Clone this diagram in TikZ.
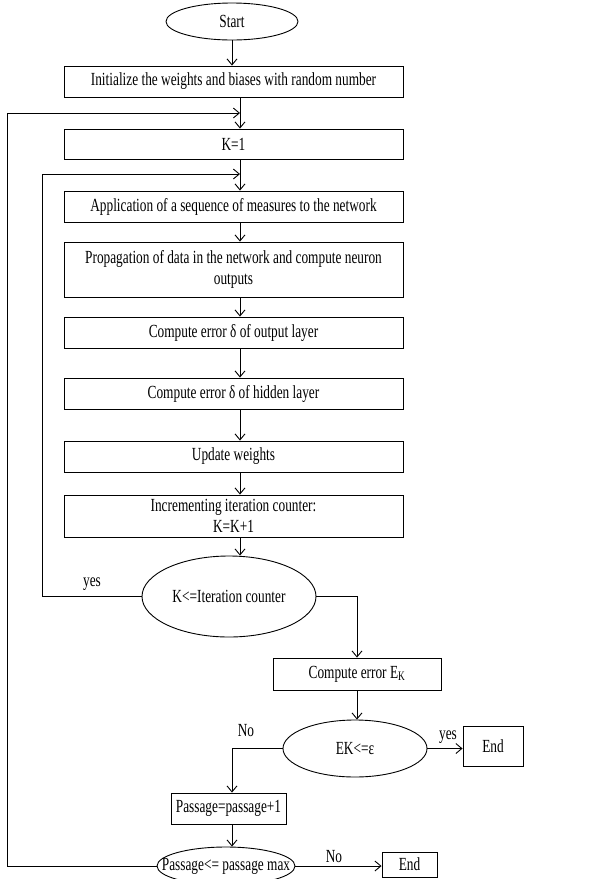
\documentclass[tikz,border=0pt]{standalone}
\usepackage{fontspec}
\setmainfont[FakeStretch=0.72]{Liberation Serif}
\usetikzlibrary{shapes.geometric,arrows.meta}
\begin{document}
\begin{tikzpicture}[x=1pt,y=-1pt,
  line width=0.9pt,
  every node/.style={font=\fontsize{18.5}{21.5}\selectfont},
  box/.style={draw,rectangle,inner sep=0pt,align=center},
  wide/.style={box,minimum width=339pt},
  oval/.style={draw,ellipse,inner sep=0pt},
  flow/.style={-{Straight Barb[length=6pt,width=10pt]}},
  tag/.style={inner sep=0pt}]
\useasboundingbox (0,0) rectangle (611,879);

% main column
\node[oval,minimum width=132pt,minimum height=37pt] (start) at (232,21.5) {Start};
\node[wide,minimum height=31pt] (init) at (233.5,81.5) {Initialize the weights and biases with random number};
\node[wide,minimum height=30pt] (k1) at (233.5,144) {K=1};
\node[wide,minimum height=31pt] (app) at (233.5,206.5) {Application of a sequence of measures to the network};
\node[wide,minimum height=55pt] (prop) at (233.5,269.5) {Propagation of data in the network and compute neuron\\outputs};
\node[wide,minimum height=31pt] (outl) at (233.5,332.5) {Compute error δ of output layer};
\node[wide,minimum height=31pt] (hidl) at (233.5,393.5) {Compute error δ of hidden layer};
\node[wide,minimum height=31pt] (upd) at (233.5,456.5) {Update weights};
\node[wide,minimum height=42pt] (inc) at (233.5,516) {Incrementing iteration counter:\\K=K+1};
\node[oval,minimum width=174pt,minimum height=81pt] (dec1) at (229,596.5) {K<=Iteration counter};

% error test branch
\node[box,minimum width=168pt,minimum height=32pt] (ek) at (357,674) {Compute error E\textsubscript{K}};
\node[oval,minimum width=144pt,minimum height=57pt] (dec2) at (355,748.5) {EK<=ε};
\node[box,minimum width=60pt,minimum height=40pt] (end1) at (493,746) {End};
\node[box,minimum width=115pt,minimum height=31pt] (pass) at (228.5,808.5) {Passage=passage+1};
% the outline is drawn empty so that the wide text may reach its rim
\node[oval,minimum width=138pt,minimum height=38pt] (dec3) at (226,866) {};
\node[inner sep=0pt] (dec3txt) at (dec3.center) {Passage<= passage max};
\node[box,minimum width=55pt,minimum height=25pt] (end2) at (409.5,864.5) {End};

% helper points for the connectors
\coordinate (spine) at (240,0);
\coordinate (outer) at (7,113);
\coordinate (inner) at (42,174);
\coordinate (nobr) at (232,748.5);

% labels
\node[tag] (lyes1) at (92,584) {yes};
\node[tag] (lyes2) at (448,737) {yes};
\node[tag] (lno1) at (246,731) {No};
\node[tag] (lno2) at (334,857) {No};

% connectors
\draw[flow] (start.south) -- (start.south |- init.north);
\draw[flow] (init.south -| spine) -- (k1.north -| spine);
\draw[flow] (k1.south -| spine) -- (app.north -| spine);
\draw[flow] (app.south -| spine) -- (prop.north -| spine);
\draw[flow] (prop.south -| spine) -- (outl.north -| spine);
\draw[flow] (outl.south -| spine) -- (hidl.north -| spine);
\draw[flow] (hidl.south -| spine) -- (upd.north -| spine);
\draw[flow] (upd.south -| spine) -- (inc.north -| spine);
\draw[flow] (inc.south -| spine) -- (dec1.north -| spine);

\draw[flow] (dec1.west) -| (inner) -- (inner -| spine);
\draw[flow] (dec1.east) -| (ek.north);
\draw[flow] (ek.south) -- (ek.south |- dec2.north);
\draw[flow] (dec2.east) -- (end1.west |- dec2.east);
\draw[flow] (dec2.west) -| (nobr |- pass.north);
\draw[flow] (nobr |- pass.south) -- (nobr |- dec3.north);
\draw[flow] (dec3.east) -- (end2.west |- dec3.east);
\draw[flow] (dec3.west) -| (outer) -- (outer -| spine);
\end{tikzpicture}
\end{document}
